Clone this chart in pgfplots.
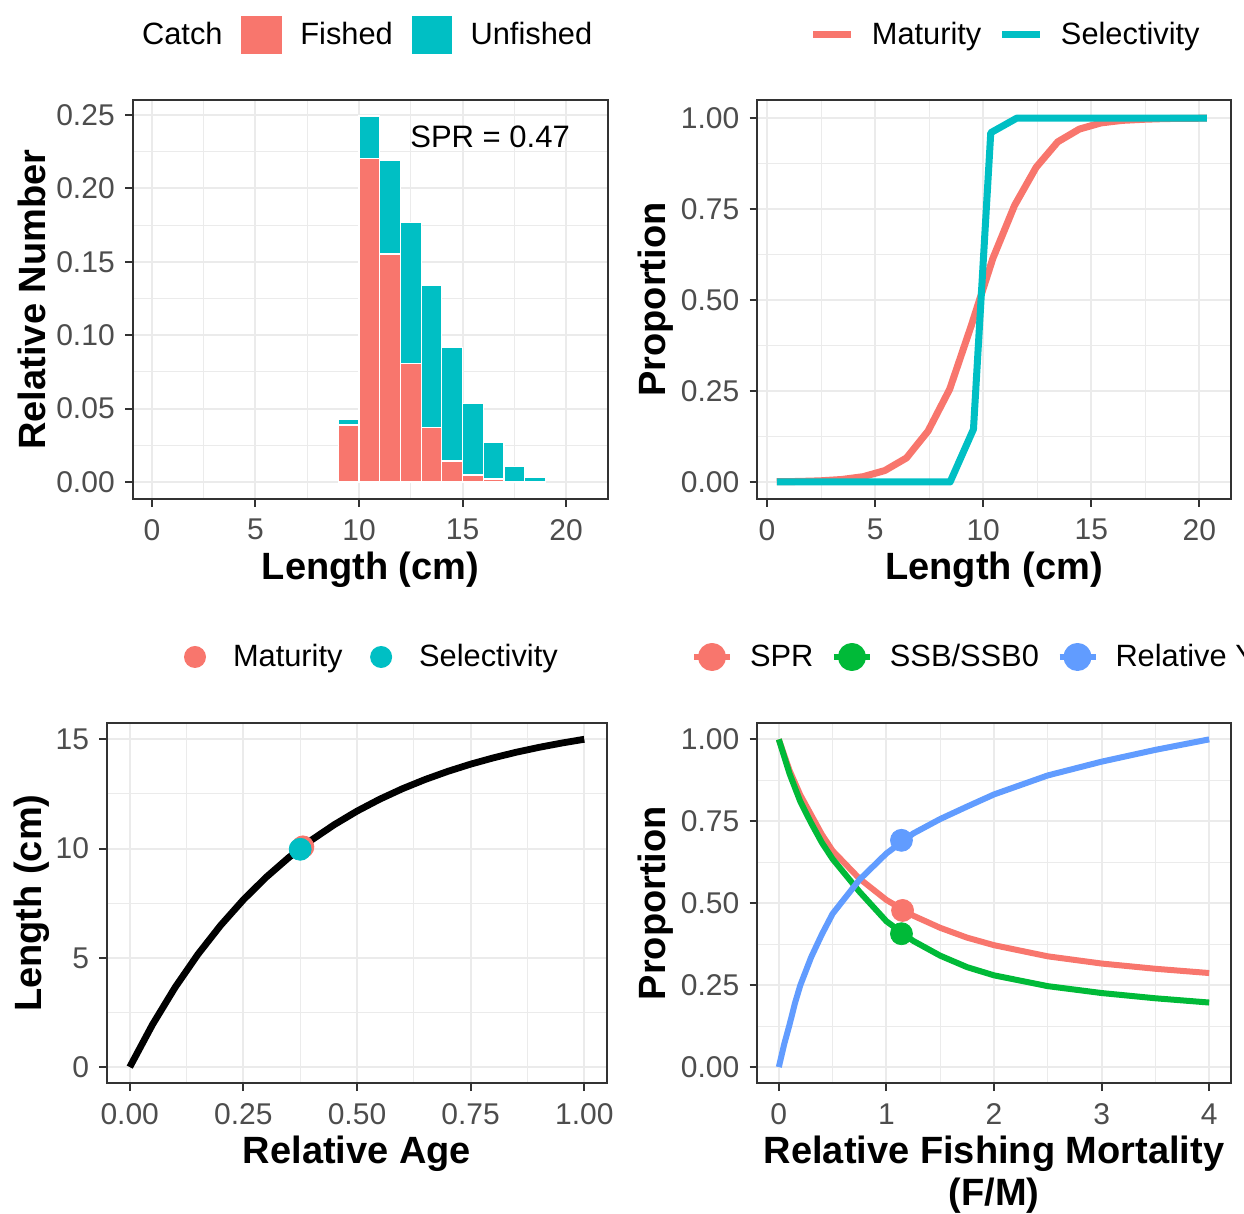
\documentclass[border=0pt]{standalone}
\usepackage{fontspec}
\setmainfont{Liberation Sans}
\usepackage{pgfplots}
\pgfplotsset{compat=1.18}

\definecolor{salmon}{HTML}{F8766D}
\definecolor{tealc}{HTML}{00BFC4}
\definecolor{greenc}{HTML}{00BA38}
\definecolor{bluec}{HTML}{619CFF}
\definecolor{gridc}{HTML}{EBEBEB}
\definecolor{framec}{HTML}{333333}
\definecolor{tickc}{HTML}{4D4D4D}

\pgfplotsset{
  ggbw/.style={
    scale only axis,
    anchor=south west,
    axis line style={framec, line width=1pt},
    tick align=outside,
    tick pos=left,
    major tick length=3.8pt,
    minor tick length=0pt,
    tick style={framec, line width=1pt},
    grid=both,
    major grid style={gridc, line width=1pt},
    minor grid style={gridc, line width=0.5pt},
    minor x tick num=1, minor y tick num=1,
    /pgf/number format/assume math mode=true,
    ticklabel style={font=\fontsize{15}{18}\selectfont, text=tickc},
    xticklabel style={inner sep=0pt, anchor=north, yshift=-6pt},
    yticklabel style={inner sep=0pt, anchor=east, xshift=-5pt},
    label style={font=\fontsize{19}{21}\selectfont\bfseries},
    xlabel style={at={(axis description cs:0.5,0)}, anchor=north, inner sep=0pt, yshift=-26pt, align=center},
    ylabel style={at={(axis description cs:0,0.5)}, anchor=center, inner sep=0pt},
    legend style={draw=none, fill=none, legend columns=-1,
      font=\fontsize{15.4}{18}\selectfont, inner sep=0pt, outer sep=0pt,
      nodes={inner sep=0pt},
      /tikz/every odd column/.append style={column sep=8.5pt},
      /tikz/every even column/.append style={column sep=8.8pt}},
  },
  sqkey/.style={legend image code/.code={\fill[##1] (0pt,-10pt) rectangle (21pt,10pt);}},
  linekey/.style={legend image code/.code={\draw[##1] (1pt,0pt) -- (20pt,0pt);}},
  dotkey/.style={legend image code/.code={\path[draw=none, fill=none] (0pt,0pt) -- (21pt,0pt); \fill[##1, draw=none] (10.5pt,0pt) circle (5.5pt);}},
  linedotkey/.style={legend image code/.code={\draw[##1] (1.5pt,0pt) -- (19.5pt,0pt); \fill[##1] (10.5pt,0pt) circle (5.5pt);}},
}

\begin{document}
\begin{tikzpicture}

% ---- top left: length composition of the catch
\begin{axis}[ggbw, at={(66.35pt,357.35pt)}, width=237.8pt, height=199.65pt,
    xmin=-0.93, xmax=22.04, ymin=-0.0118, ymax=0.2602,
    xtick={0,5,10,15,20},
    ytick={0,0.05,0.10,0.15,0.20,0.25},
    yticklabels={0.00,0.05,0.10,0.15,0.20,0.25},
    ybar stacked, bar width=1,
    xlabel={Length (cm)}, ylabel={Relative Number},
    ylabel style={yshift=50.3pt},
    sqkey,
    legend style={at={(-0.016,1)}, anchor=west, yshift=32.5pt}]
\addlegendimage{empty legend}
\addlegendentry{Catch}
\addplot[fill=salmon, draw=white, line width=0.6pt] coordinates {
  (9.5,0.0388) (10.5,0.2205) (11.5,0.1553) (12.5,0.0809) (13.5,0.0373)
  (14.5,0.0143) (15.5,0.0048) (16.5,0.0020) (17.5,0.0005) (18.5,0.0)};
\addlegendentry{Fished}
\addplot[fill=tealc, draw=white, line width=0.6pt] coordinates {
  (9.5,0.0039) (10.5,0.0288) (11.5,0.0640) (12.5,0.0960) (13.5,0.0964)
  (14.5,0.0772) (15.5,0.0488) (16.5,0.0248) (17.5,0.0099) (18.5,0.0034)};
\addlegendentry{Unfished}
\node[font=\fontsize{15.5}{18}\selectfont] at (axis cs:16.33,0.235) {SPR = 0.47};
\end{axis}

% ---- top right: maturity and selectivity at length
\begin{axis}[ggbw, at={(378.65pt,357.35pt)}, width=236.7pt, height=199.65pt,
    xmin=-0.45, xmax=21.45, ymin=-0.0476, ymax=1.05,
    xtick={0,5,10,15,20},
    ytick={0,0.25,0.5,0.75,1},
    yticklabels={0.00,0.25,0.50,0.75,1.00},
    xlabel={Length (cm)}, ylabel={Proportion},
    ylabel style={yshift=51pt},
    linekey,
    legend style={at={(0.111,1)}, anchor=west, yshift=32.5pt}]
\addplot[salmon, line width=3.5pt, line join=round] coordinates {
  (0.45,0.0007) (1.45,0.0014) (2.45,0.0031) (3.45,0.0068) (4.45,0.0146)
  (5.45,0.0314) (6.45,0.066) (7.45,0.140) (8.45,0.255) (9.45,0.430)
  (10.45,0.615) (11.45,0.760) (12.45,0.865) (13.45,0.935) (14.45,0.970)
  (15.45,0.987) (16.45,0.994) (17.45,0.997) (18.45,0.999) (19.45,0.9995)
  (20.35,1.0)};
\addlegendentry{Maturity}
\addplot[tealc, line width=3.5pt, line join=round] coordinates {
  (0.46,0) (1.45,0) (2.45,0) (3.45,0) (4.45,0) (5.45,0) (6.45,0) (7.45,0)
  (8.47,0) (9.55,0.145) (10.35,0.96) (11.55,1.0) (12.45,1.0) (13.45,1.0)
  (14.45,1.0) (15.45,1.0) (16.45,1.0) (17.45,1.0) (18.45,1.0) (19.45,1.0)
  (20.35,1.0)};
\addlegendentry{Selectivity}
\end{axis}

% ---- bottom left: growth curve
\begin{axis}[ggbw, at={(53.5pt,65.25pt)}, width=250pt, height=180.25pt,
    xmin=-0.05, xmax=1.05, ymin=-0.75, ymax=15.75,
    xtick={0,0.25,0.5,0.75,1},
    xticklabels={0.00,0.25,0.50,0.75,1.00},
    ytick={0,5,10,15},
    xlabel={Relative Age}, ylabel={Length (cm)},
    ylabel style={yshift=37.5pt},
    dotkey,
    legend style={at={(0.134,1)}, anchor=west, yshift=33pt}]
\addplot[black, line width=3.4pt, line join=round, forget plot] coordinates {
  (0,0) (0.05,1.943) (0.10,3.654) (0.15,5.161) (0.20,6.488) (0.25,7.658)
  (0.30,8.687) (0.35,9.593) (0.40,10.393) (0.45,11.095) (0.50,11.716)
  (0.55,12.261) (0.60,12.742) (0.65,13.164) (0.70,13.537) (0.75,13.866)
  (0.80,14.154) (0.85,14.410) (0.90,14.633) (0.95,14.830) (1.00,15.005)};
\addplot[only marks, mark=*, mark size=5.5pt, color=salmon] coordinates {(0.381,10.08)};
\addlegendentry{Maturity}
\addplot[only marks, mark=*, mark size=5.5pt, color=tealc] coordinates {(0.375,9.97)};
\addlegendentry{Selectivity}
\end{axis}

% ---- bottom right: per-recruit curves against F/M
\begin{axis}[ggbw, at={(378.65pt,65.25pt)}, width=236.7pt, height=180.25pt,
    xmin=-0.2, xmax=4.2, ymin=-0.05, ymax=1.05,
    xtick={0,1,2,3,4},
    ytick={0,0.25,0.5,0.75,1},
    yticklabels={0.00,0.25,0.50,0.75,1.00},
    xlabel={Relative Fishing Mortality\\(F/M)}, ylabel={Proportion},
    ylabel style={yshift=51pt},
    linedotkey,
    legend style={at={(-0.14,1)}, anchor=west, yshift=33pt}]
\addplot[salmon, line width=3pt, line join=round] coordinates {
  (0,1.0) (0.1,0.905) (0.2,0.83) (0.3,0.77) (0.4,0.71) (0.5,0.66)
  (0.75,0.575) (1.0,0.51) (1.25,0.462) (1.5,0.425) (1.75,0.395)
  (2.0,0.372) (2.5,0.338) (3.0,0.316) (3.5,0.30) (4.0,0.287)};
\addlegendentry{SPR}
\addplot[greenc, line width=3pt, line join=round] coordinates {
  (0,1.0) (0.1,0.895) (0.2,0.81) (0.3,0.745) (0.4,0.685) (0.5,0.635)
  (0.75,0.535) (1.0,0.445) (1.25,0.385) (1.5,0.34) (1.75,0.305)
  (2.0,0.28) (2.5,0.247) (3.0,0.226) (3.5,0.21) (4.0,0.197)};
\addlegendentry{SSB/SSB0}
\addplot[bluec, line width=3pt, line join=round] coordinates {
  (0,0.0) (0.05,0.07) (0.1,0.13) (0.15,0.195) (0.2,0.25) (0.3,0.335)
  (0.4,0.405) (0.5,0.468) (0.75,0.572) (1.0,0.652) (1.25,0.713)
  (1.5,0.757) (1.75,0.795) (2.0,0.832) (2.5,0.89) (3.0,0.932)
  (3.5,0.968) (4.0,1.0)};
\addlegendentry{Relative Yield}
\addplot[only marks, mark=*, mark size=5.5pt, color=salmon, forget plot] coordinates {(1.15,0.478)};
\addplot[only marks, mark=*, mark size=5.5pt, color=greenc, forget plot] coordinates {(1.14,0.407)};
\addplot[only marks, mark=*, mark size=5.5pt, color=bluec, forget plot] coordinates {(1.14,0.692)};
\end{axis}

\pgfresetboundingbox
\path[use as bounding box] (0pt,0pt) rectangle (622pt,607pt);
\end{tikzpicture}
\end{document}
